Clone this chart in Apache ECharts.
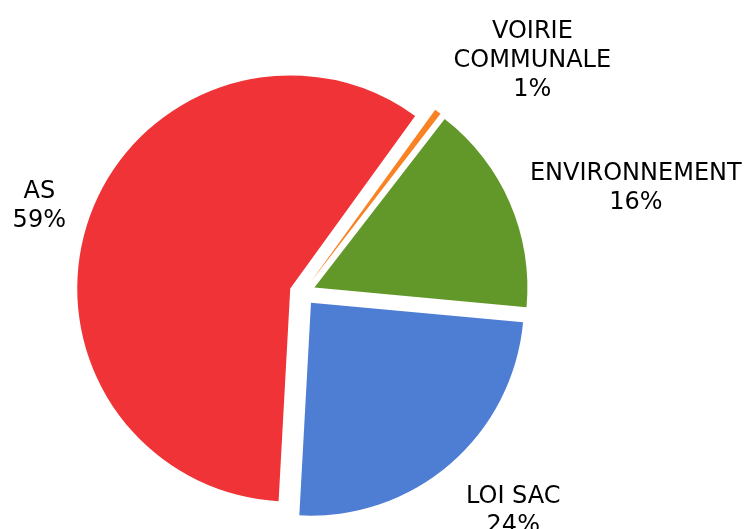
<!DOCTYPE html>
<html>
<head>
<meta charset="utf-8">
<script src="https://cdn.jsdelivr.net/npm/echarts@6/dist/echarts.min.js"></script>
<style>
html,body{margin:0;padding:0;background:#fff;}
#chart{width:745px;height:529px;}
</style>
</head>
<body>
<div id="chart"></div>
<script>
// Data
const categories = ['VOIRIE COMMUNALE', 'ENVIRONNEMENT', 'LOI SAC', 'AS'];
const values = [0.5, 16.0, 24.4, 59.1];
const colors = ['#F98324', '#62982A', '#4E7DD4', '#EF3336'];
// label line tuning (layout only)
const labelLen = [68, 46, 58, 43];
const labelLen2 = [-30, -27, -27, -22];

function wrapName(name) {
  return name.length > 12 ? name.split(' ') : [name];
}

const chart = echarts.init(document.getElementById('chart'), null, {renderer: 'canvas'});
const textStyle = {fontFamily: 'DejaVu Sans', fontSize: 24, lineHeight: 29, color: '#000', align: 'center'};
chart.setOption({
  animation: false,
  series: [{
    type: 'pie',
    center: [302.5, 292.8],
    radius: 213,
    startAngle: 54.1,
    clockwise: true,
    selectedMode: 'multiple',
    selectedOffset: 13,
    avoidLabelOverlap: false,
    percentPrecision: 0,
    emphasis: {disabled: true},
    itemStyle: {borderWidth: 0},
    label: {
      show: true,
      position: 'outside',
      fontFamily: 'DejaVu Sans',
      fontSize: 24,
      lineHeight: 29,
      color: '#000',
      bleedMargin: 0,
      padding: [7, 0, 0, 0],
      formatter: function (p) {
        const lines = wrapName(p.name).concat([p.percent + '%']);
        return lines.map(l => '{t|' + l + '}').join('\n');
      },
      rich: {t: textStyle}
    },
    labelLine: {show: false},
    data: categories.map((c, i) => ({
      name: c,
      value: values[i],
      selected: true,
      itemStyle: {color: colors[i]},
      labelLine: {show: false, length: labelLen[i], length2: labelLen2[i]}
    }))
  }]
});
</script>
</body>
</html>
